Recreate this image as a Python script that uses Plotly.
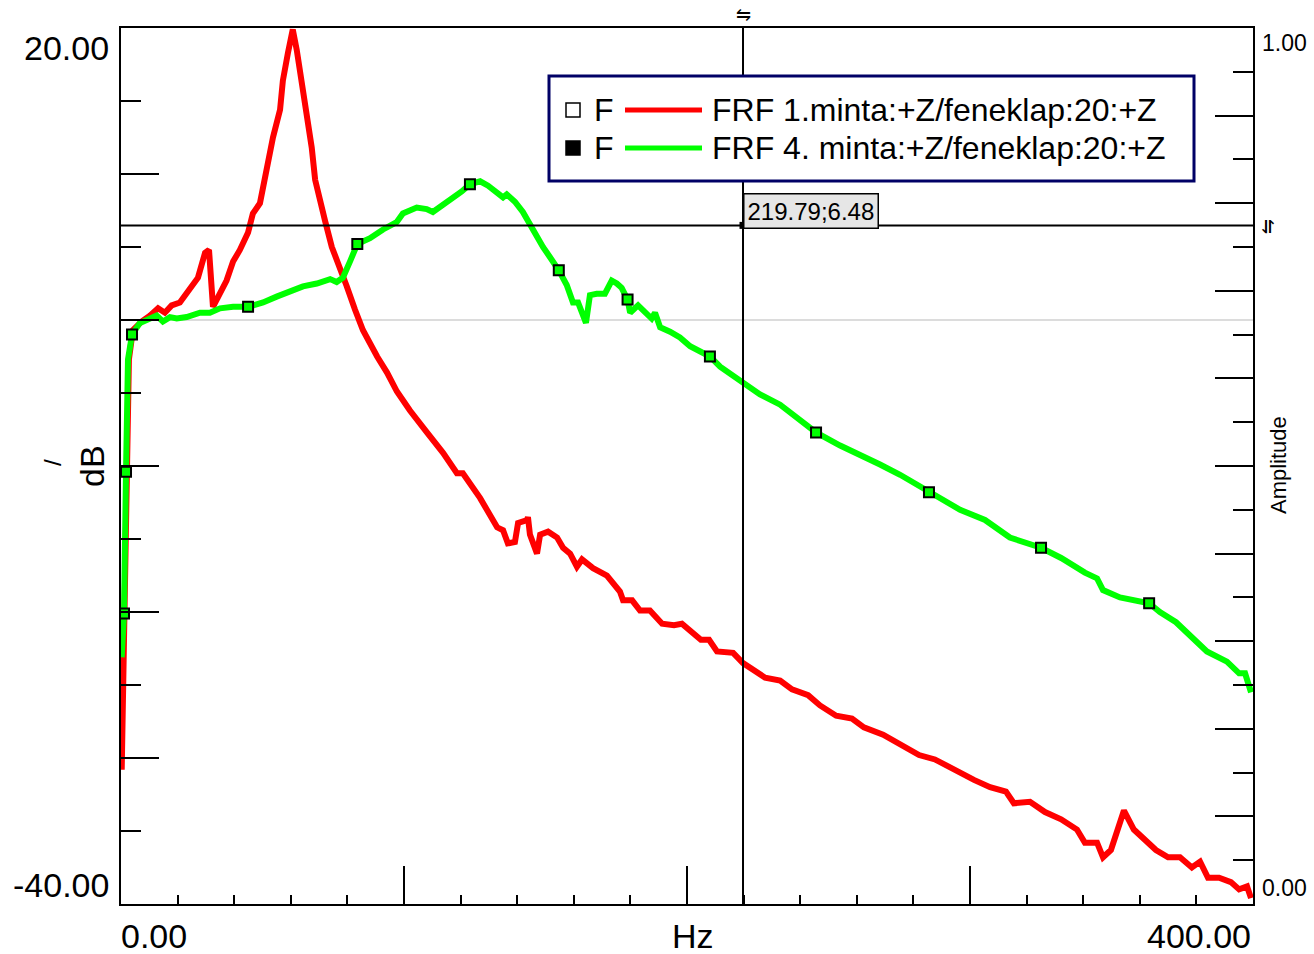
import plotly.graph_objects as go

# ---------------- data ----------------
freq_red = [0.25, 0.7, 1.4, 2.1, 2.8, 4.2, 7.3, 10.2, 13.1, 15.5, 17.9, 20.8, 24.4, 27.2, 29.7, 31.1,
            32.5, 35.0, 37.3, 39.6, 42.0, 44.9, 46.6, 49.1, 51.6, 53.7, 56.2, 57.2, 59.0, 60.7, 62.1,
            63.9, 65.6, 67.4, 68.6, 70.3, 72.1, 74.5, 77.4, 79.8, 82.7, 85.5, 90.5, 94.0, 97.5, 102.1,
            108.1, 113.8, 118.7, 120.8, 126.9, 132.9, 135.0, 136.7, 139.2, 140.3, 143.5, 143.8, 144.5,
            147.0, 148.1, 150.9, 154.1, 156.2, 158.7, 161.1, 162.9, 166.8, 171.7, 176.3, 177.4, 180.6,
            183.4, 186.9, 191.2, 195.4, 198.2, 204.9, 207.8, 210.6, 216.3, 219.8, 227.6, 232.9, 237.1,
            242.8, 247.0, 252.7, 258.3, 262.5, 269.3, 274.9, 282.0, 287.6, 294.3, 301.4, 307.1, 312.7,
            315.5, 321.2, 326.5, 332.2, 337.8, 340.6, 344.9, 347.0, 349.8, 351.9, 354.4, 357.9, 361.5,
            365.7, 370.0, 374.2, 378.4, 381.3, 384.1, 388.0, 392.2, 395.1, 397.9, 399.3]
db_red = [-30.8, -24.7, -19.2, -10.3, -2.7, -0.7, -0.1, 0.3, 0.8, 0.5, 1.0, 1.2, 2.1, 2.9, 4.6, 4.8,
          0.9, 1.8, 2.7, 4.0, 4.8, 6.0, 7.3, 8.0, 10.5, 12.5, 14.4, 16.4, 18.3, 19.9, 18.5,
          16.4, 13.9, 11.8, 9.6, 8.4, 6.8, 5.0, 3.6, 2.3, 0.7, -0.7, -2.5, -3.6, -4.9, -6.2,
          -7.7, -9.1, -10.5, -10.5, -12.2, -14.2, -14.4, -15.3, -15.2, -13.9, -13.7, -13.5, -14.7,
          -16.0, -14.7, -14.5, -14.9, -15.6, -16.0, -16.9, -16.4, -17.0, -17.5, -18.6, -19.2, -19.2,
          -19.9, -19.9, -20.8, -20.9, -20.8, -21.9, -21.9, -22.7, -22.8, -23.5, -24.5, -24.7, -25.3,
          -25.7, -26.4, -27.1, -27.3, -27.9, -28.4, -29.0, -29.8, -30.1, -30.8, -31.5, -32.0, -32.3,
          -33.1, -33.0, -33.7, -34.2, -34.9, -35.8, -35.8, -36.8, -36.3, -34.9, -33.6, -34.9, -35.6,
          -36.3, -36.8, -36.8, -37.5, -37.1, -38.2, -38.2, -38.5, -39.0, -38.8, -39.6]

freq_green = [0.25, 1.06, 1.77, 2.47, 3.89, 6.7, 9.1, 12.6, 14.8, 17.3, 19.7, 23.2, 27.9, 31.4, 35.0,
              39.6, 44.9, 50.2, 55.0, 59.7, 64.3, 69.2, 73.9, 76.2, 78.4, 80.9, 83.5, 88.0, 92.6, 97.4,
              99.6, 104.5, 108.0, 110.2, 113.8, 118.0, 120.4, 123.3, 126.9, 129.7, 132.8, 135.0, 136.3,
              139.2, 142.0, 144.5, 146.9, 149.1, 151.6, 154.7, 157.5, 159.7, 161.5, 164.3, 165.7, 168.1,
              171.0, 173.4, 175.2, 176.9, 179.0, 179.9, 182.7, 185.2, 187.5, 188.7, 190.5, 194.0, 197.5,
              201.1, 208.1, 211.7, 219.8, 225.8, 232.9, 239.9, 245.6, 254.1, 261.1, 268.2, 275.3, 285.5,
              296.5, 305.3, 314.1, 325.1, 332.2, 340.6, 344.9, 347.0, 353.0, 363.3, 367.1, 372.8, 378.1,
              383.7, 390.8, 395.1, 397.2, 399.3]
db_green = [-23.1, -20.1, -10.4, -2.7, -1.0, -0.2, 0.0, 0.3, -0.1, 0.2, 0.1, 0.2, 0.5, 0.5, 0.8,
            0.9, 0.9, 1.2, 1.6, 1.9, 2.3, 2.5, 2.8, 2.6, 2.9, 4.0, 5.2, 5.6, 6.2, 6.7,
            7.3, 7.7, 7.6, 7.4, 7.9, 8.4, 8.8, 9.3, 9.5, 9.2, 8.7, 8.4, 8.6,
            8.1, 7.4, 6.5, 5.8, 5.0, 4.3, 3.4, 2.4, 1.2, 1.2, -0.2, 1.7, 1.8,
            1.8, 2.7, 2.5, 2.2, 1.4, 0.5, 1.0, 0.5, 0.1, 0.5, -0.5, -0.8, -1.2,
            -1.8, -2.5, -3.2, -4.3, -5.1, -5.8, -6.8, -7.7, -8.6, -9.2, -9.9, -10.6, -11.8,
            -13.0, -13.7, -14.9, -15.6, -16.3, -17.3, -17.7, -18.5, -19.0, -19.4, -20.0, -20.7, -21.7,
            -22.7, -23.4, -24.2, -24.2, -25.5]

marker_freq = [1.06, 1.77, 3.89, 44.9, 83.5, 123.3, 154.7, 179.0, 208.1, 245.6, 285.5, 325.1, 363.3]
marker_db = [-20.1, -10.4, -1.0, 0.9, 5.2, 9.3, 3.4, 1.4, -2.5, -7.7, -11.8, -15.6, -19.4]

series_names = ["FRF 1.minta:+Z/feneklap:20:+Z", "FRF 4. minta:+Z/feneklap:20:+Z"]
cursor_x = 219.79
cursor_y = 6.48
cursor_label = "219.79;6.48"

x_range = [0, 400]
y_range = [-40, 20]
amp_range = [0, 1]
x_major = [100, 200, 300]
x_minor = [v for v in range(20, 400, 20)]
y_major = [-30, -20, -10, 0, 10]
y_minor = [-35, -25, -15, -5, 5, 15]
amp_major = [0.1, 0.2, 0.3, 0.4, 0.5, 0.6, 0.7, 0.8, 0.9]
amp_minor = [0.05, 0.15, 0.25, 0.35, 0.45, 0.55, 0.65, 0.75, 0.85, 0.95]

RED = "#ff0000"
GREEN = "#00ff00"
FONT = "Liberation Sans, Arial, sans-serif"

# ---------------- layout helpers (pixel -> paper) ----------------
W, H = 1314, 954
L, R, T, B = 121, 61, 28, 50
PW, PH = W - L - R, H - T - B


def px(xp):
    return (xp - L) / PW


def py(yp):
    return (H - B - yp) / PH


fig = go.Figure()

fig.add_trace(go.Scatter(x=freq_red, y=db_red, mode="lines",
                         line=dict(color=RED, width=6), name=series_names[0],
                         hoverinfo="skip"))
fig.add_trace(go.Scatter(x=freq_green, y=db_green, mode="lines",
                         line=dict(color=GREEN, width=6), name=series_names[1],
                         hoverinfo="skip"))
fig.add_trace(go.Scatter(x=marker_freq, y=marker_db, mode="markers",
                         marker=dict(symbol="square", size=10, color=GREEN,
                                     line=dict(color="black", width=2)),
                         hoverinfo="skip", showlegend=False))
# cursor point
fig.add_trace(go.Scatter(x=[cursor_x], y=[cursor_y], mode="markers",
                         marker=dict(symbol="square", size=7, color="black"),
                         hoverinfo="skip", showlegend=False))
# dummy traces so overlay axes exist
fig.add_trace(go.Scatter(x=[None], y=[None], xaxis="x2", yaxis="y3", showlegend=False, hoverinfo="skip"))
fig.add_trace(go.Scatter(x=[None], y=[None], xaxis="x", yaxis="y2", showlegend=False, hoverinfo="skip"))
fig.add_trace(go.Scatter(x=[None], y=[None], xaxis="x", yaxis="y4", showlegend=False, hoverinfo="skip"))

common = dict(showgrid=False, showticklabels=False, ticks="inside", tickcolor="black",
              tickwidth=2, fixedrange=True)

fig.update_layout(
    width=W, height=H,
    margin=dict(l=L, r=R, t=T, b=B, pad=0),
    paper_bgcolor="white", plot_bgcolor="white",
    showlegend=False,
    font=dict(family=FONT, color="black"),
    xaxis=dict(range=x_range, tickvals=x_major, ticklen=38, showline=True, mirror=True,
               linecolor="black", linewidth=2, zeroline=False, **common),
    xaxis2=dict(range=x_range, tickvals=x_minor, ticklen=9, overlaying="x", side="bottom",
                anchor="y", showline=False, zeroline=False, **common),
    yaxis=dict(range=y_range, tickvals=y_major, ticklen=38, showline=True, mirror=True,
               linecolor="black", linewidth=2, zeroline=True, zerolinecolor="#dcdcdc",
               zerolinewidth=2, **common),
    yaxis3=dict(range=y_range, tickvals=y_minor, ticklen=20, overlaying="y", side="left",
                anchor="x", showline=False, zeroline=False, **common),
    yaxis2=dict(range=amp_range, tickvals=amp_major, ticklen=38, overlaying="y", side="right",
                anchor="x", showline=True, linecolor="black", linewidth=2, zeroline=False, **common),
    yaxis4=dict(range=amp_range, tickvals=amp_minor, ticklen=20, overlaying="y", side="right",
                anchor="x", showline=False, zeroline=False, **common),
)

shapes = []
# cursor lines
shapes.append(dict(type="line", xref="x", yref="y domain", x0=cursor_x, x1=cursor_x, y0=0, y1=1,
                   line=dict(color="black", width=2), layer="above"))
shapes.append(dict(type="line", xref="x domain", yref="y", x0=0, x1=1, y0=cursor_y, y1=cursor_y,
                   line=dict(color="black", width=2), layer="above"))
# legend box
shapes.append(dict(type="rect", xref="paper", yref="paper", x0=px(549), x1=px(1194), y0=py(181), y1=py(76),
                   line=dict(color="#000066", width=3), fillcolor="white", layer="above"))
row_y = [110, 148]
line_colors = [RED, GREEN]
for i, ry in enumerate(row_y):
    shapes.append(dict(type="rect", xref="paper", yref="paper", x0=px(566), x1=px(580),
                       y0=py(ry + 7), y1=py(ry - 7),
                       line=dict(color="black", width=1.5),
                       fillcolor="white" if i == 0 else "black", layer="above"))
    shapes.append(dict(type="line", xref="paper", yref="paper", x0=px(625), x1=px(702),
                       y0=py(ry), y1=py(ry), line=dict(color=line_colors[i], width=5), layer="above"))
fig.update_layout(shapes=shapes)

ann = []


def add_text(text, x, y, size, xanchor="center", yanchor="middle", angle=0, **kw):
    ann.append(dict(text=text, x=x, y=y, xref="paper", yref="paper", showarrow=False,
                    xanchor=xanchor, yanchor=yanchor, textangle=angle,
                    font=dict(family=FONT, size=size, color="black"), **kw))


# legend texts
for i, ry in enumerate(row_y):
    add_text("F", px(604), py(ry), 32)
    add_text(series_names[i], px(710), py(ry), 32, xanchor="left")

# axis labels
add_text("20.00", px(111), py(48), 34, xanchor="right")
add_text("-40.00", px(111), py(885), 34, xanchor="right")
add_text("0.00", px(119), py(936), 34, xanchor="left")
add_text("400.00", px(1253), py(936), 34, xanchor="right")
add_text("Hz", px(693), py(936), 34)
add_text("dB", px(92), py(466), 34, angle=-90)
add_text("/", px(52), py(463), 24, angle=-90)
add_text("1.00", px(1260), py(43), 23, xanchor="left")
add_text("0.00", px(1260), py(888), 23, xanchor="left")
add_text("Amplitude", px(1279), py(465), 22, angle=-90)
# cursor symbols
add_text("⇋", px(743), py(15), 18)
add_text("⇋", px(1268), py(226), 18, angle=90)

# cursor readout
ann.append(dict(text=cursor_label, x=cursor_x, y=cursor_y, xref="x", yref="y", showarrow=False,
                xanchor="left", yanchor="bottom", yshift=-4, xshift=0,
                bgcolor="#e6e6e6", bordercolor="black", borderwidth=1.5, borderpad=3,
                font=dict(family=FONT, size=24, color="black")))

fig.update_layout(annotations=ann)

fig.write_html("out.html", config={"displayModeBar": False},
               post_script="document.body.style.margin='0';document.body.style.overflow='hidden';")
